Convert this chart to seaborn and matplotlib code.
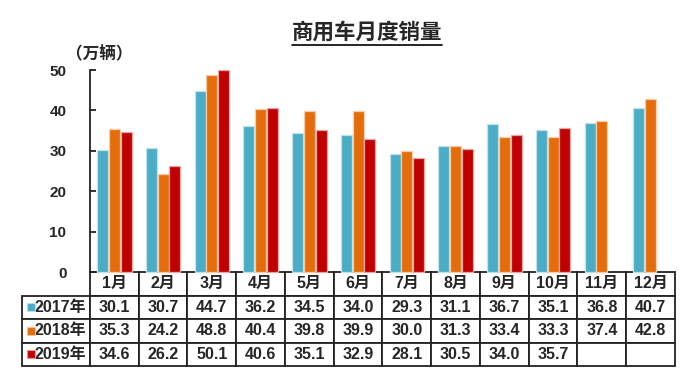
import matplotlib
matplotlib.use("Agg")
import matplotlib.pyplot as plt
import numpy as np
import pandas as pd
import seaborn as sns
from matplotlib.lines import Line2D
from matplotlib.colors import to_rgb

months = ["1月", "2月", "3月", "4月", "5月", "6月", "7月", "8月", "9月", "10月", "11月", "12月"]
years = ["2017年", "2018年", "2019年"]
sales_2017 = [30.1, 30.7, 44.7, 36.2, 34.5, 34.0, 29.3, 31.1, 36.7, 35.1, 36.8, 40.7]
sales_2018 = [35.3, 24.2, 48.8, 40.4, 39.8, 39.9, 30.0, 31.3, 33.4, 33.3, 37.4, 42.8]
sales_2019 = [34.6, 26.2, 50.1, 40.6, 35.1, 32.9, 28.1, 30.5, 34.0, 35.7, None, None]
yticks = [0, 10, 20, 30, 40, 50]
colors = ["#4BACC6", "#E46C0A", "#C00000"]

series = [sales_2017, sales_2018, sales_2019]
rows = []
for yr, vals in zip(years, series):
    for m, v in zip(months, vals):
        if v is not None:
            rows.append({"月份": m, "年份": yr, "销量": v})
df = pd.DataFrame(rows)

sns.set_theme(style="white")
plt.rcParams["font.family"] = ["Liberation Sans", "Noto Sans CJK SC", "DejaVu Sans"]
plt.rcParams["font.weight"] = "bold"

W, H = 700, 387
fig = plt.figure(figsize=(W / 100, H / 100), dpi=100)
ax_l, ax_r, ax_t, ax_b = 90, 675, 70, 272
ax = fig.add_axes([ax_l / W, 1 - ax_b / H, (ax_r - ax_l) / W, (ax_b - ax_t) / H])

sns.barplot(data=df, x="月份", y="销量", hue="年份", order=months, hue_order=years,
            palette=colors, saturation=1, width=0.72, gap=0.06, linewidth=0.9,
            legend=False, ax=ax)

# pale edges around bars
for p in ax.patches:
    fc = np.array(to_rgb(p.get_facecolor()))
    p.set_edgecolor(tuple(fc * 0.35 + 0.65))
    p.set_clip_on(False)

ax.set_xlim(-0.5, 11.5)
ax.set_ylim(0, 50)
ax.set_yticks(yticks)
ax.set_xlabel("")
ax.set_ylabel("")
ax.tick_params(axis="x", bottom=False, labelbottom=False)
ax.tick_params(axis="y", direction="in", length=4, width=1.3, color="#222222",
               labelsize=11, pad=17, left=True)
for lab in ax.get_yticklabels():
    lab.set_fontweight("bold")
for s in ["top", "right", "bottom"]:
    ax.spines[s].set_visible(False)
ax.spines["left"].set_color("#222222")
ax.spines["left"].set_linewidth(1.3)

# data table under the bars
def fmt(v):
    return "" if v is None else f"{v:.1f}"

cell_text = [[yr] + [fmt(v) for v in vals] for yr, vals in zip(years, series)]
axw = ax_r - ax_l
axh = ax_b - ax_t
lab_w, col_w = 68, axw / 12
tbl = ax.table(cellText=cell_text, colLabels=[""] + months, cellLoc="center",
               colWidths=[lab_w] + [col_w] * 12,
               bbox=[-lab_w / axw, -(366 - ax_b) / axh, (lab_w + axw) / axw, (366 - ax_b) / axh])
tbl.auto_set_font_size(False)
tbl.set_fontsize(11.5)
for (r, c), cell in tbl.get_celld().items():
    cell.set_linewidth(1.3)
    cell.set_edgecolor("#222222")
    cell.get_text().set_fontweight("bold")
    if r == 0 and c == 0:
        cell.set_visible(False)
    if c == 0 and r > 0:
        cell.get_text().set_horizontalalignment("right")
        cell.PAD = 0.05

# colour keys in the row label cells
row_h = (366 - ax_b) / 4
for i, col in enumerate(colors):
    ypix = ax_b + row_h * (i + 1.5)
    ax.scatter([(31 - ax_l) / axw], [(ax_b - ypix) / axh], marker="s", s=36,
               color=col, edgecolors=tuple(np.array(to_rgb(col)) * 0.4 + 0.6), linewidths=0.8,
               transform=ax.transAxes, clip_on=False, zorder=5)

title = fig.text(367 / W, 1 - 33 / H, "商用车月度销量", ha="center", va="center",
                 fontsize=15.5, fontweight="heavy")
fig.text(99 / W, 1 - 54 / H, "（万辆）", ha="center", va="center", fontsize=12, fontweight="heavy")

fig.canvas.draw()
bb = title.get_window_extent()
fig.add_artist(Line2D([bb.x0 / W, bb.x1 / W], [(bb.y0 - 1) / H, (bb.y0 - 1) / H],
                      transform=fig.transFigure, color="black", linewidth=1.2))

fig.savefig("out.png", dpi=100)
